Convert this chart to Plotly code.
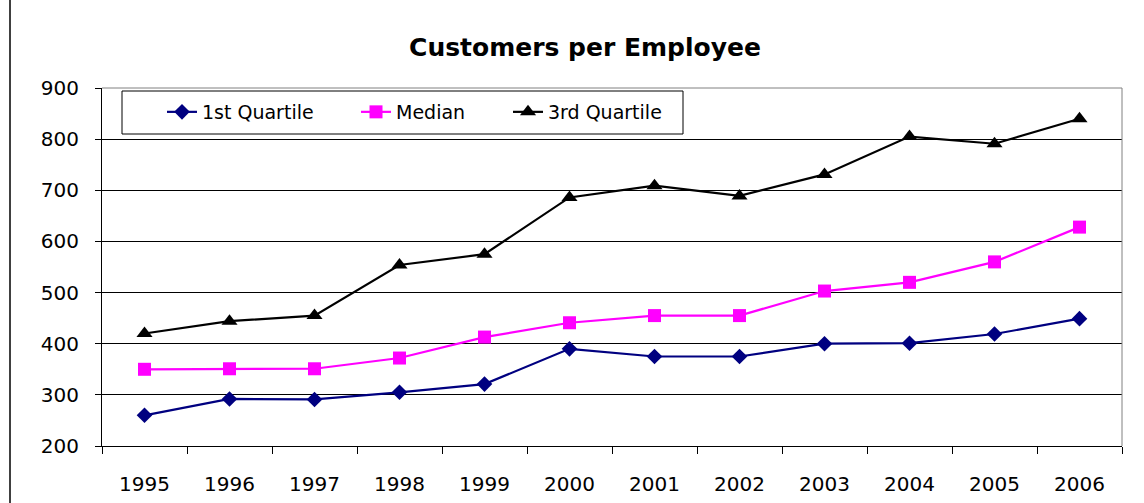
import plotly.graph_objects as go

years = ["1995", "1996", "1997", "1998", "1999", "2000", "2001", "2002", "2003", "2004", "2005", "2006"]
q1 = [260, 292, 291, 305, 321, 390, 375, 375, 400, 401, 419, 449]
median = [350, 351, 351, 372, 413, 441, 455, 455, 503, 520, 560, 628]
q3 = [420, 444, 455, 554, 575, 686, 709, 689, 731, 805, 791, 840]

W, H = 1144, 503
L, R, T, B = 102, 22, 88, 57
pw, ph = W - L - R, H - T - B

def px_x(p):
    return (p - L) / pw

def px_y(p):
    return (H - B - p) / ph

FONT = "DejaVu Sans"

fig = go.Figure()
fig.add_trace(go.Scatter(x=years, y=q1, name="1st Quartile", mode="lines+markers",
                         line=dict(color="#000080", width=2.2),
                         marker=dict(symbol="diamond", size=12, color="#000080"),
                         legend="legend", showlegend=True))
fig.add_trace(go.Scatter(x=years, y=median, name="Median", mode="lines+markers",
                         line=dict(color="#FF00FF", width=2.2),
                         marker=dict(symbol="square", size=13, color="#FF00FF"),
                         legend="legend2", showlegend=True))
fig.add_trace(go.Scatter(x=years, y=q3, name="3rd Quartile", mode="lines+markers",
                         line=dict(color="#000000", width=2.2),
                         marker=dict(symbol="triangle-up", size=14, color="#000000"),
                         legend="legend3", showlegend=True))

leg_common = dict(orientation="h", yanchor="middle", xanchor="left",
                  bgcolor="rgba(0,0,0,0)", borderwidth=0,
                  font=dict(family=FONT, size=19, color="#000000"))
ly = px_y(112)
fig.update_layout(
    showlegend=True,
    legend=dict(x=px_x(162), y=ly, **leg_common),
    legend2=dict(x=px_x(356), y=ly, **leg_common),
    legend3=dict(x=px_x(508), y=ly, **leg_common),
)

fig.update_layout(
    width=W, height=H,
    margin=dict(l=L, r=R, t=T, b=B, autoexpand=False),
    paper_bgcolor="white", plot_bgcolor="white",
    title=dict(text="<b>Customers per Employee</b>", x=585 / W, xref="container",
               xanchor="center", y=1 - 47 / H, yref="container", yanchor="middle",
               font=dict(family=FONT, size=25, color="#000000")),
    font=dict(family=FONT, color="#000000"),
    xaxis=dict(type="category", range=[-0.5, 11.5], autorange=False,
               tickson="boundaries", ticks="outside", ticklen=7,
               tickcolor="#000000", showline=True, linecolor="#000000", linewidth=1,
               showgrid=False, ticklabelstandoff=20,
               tickfont=dict(family=FONT, size=20, color="#000000")),
    yaxis=dict(range=[200, 900], autorange=False, dtick=100, ticks="outside", ticklen=6,
               tickcolor="#000000", showline=True, linecolor="#000000", linewidth=1,
               showgrid=True, gridcolor="#000000", gridwidth=1, zeroline=False,
               ticklabelstandoff=12,
               tickfont=dict(family=FONT, size=20, color="#000000")),
    shapes=[
        dict(type="line", xref="paper", yref="paper", x0=0, x1=1, y0=1, y1=1,
             line=dict(color="#808080", width=1), layer="above"),
        dict(type="line", xref="paper", yref="paper", x0=1, x1=1, y0=0, y1=1,
             line=dict(color="#808080", width=1), layer="above"),
        dict(type="rect", xref="paper", yref="paper",
             x0=px_x(122), x1=px_x(683), y0=px_y(134), y1=px_y(91),
             line=dict(color="#000000", width=1), fillcolor="rgba(0,0,0,0)", layer="above"),
        dict(type="line", xref="paper", yref="paper", x0=px_x(10), x1=px_x(10),
             y0=px_y(H), y1=px_y(0), line=dict(color="#000000", width=1.5)),
    ],
)

fig.write_html("out.html", config={"displayModeBar": False})

with open("out.html", "r", encoding="utf-8") as f:
    html = f.read()
html = html.replace("<body>", '<body style="margin:0;padding:0;overflow:hidden">', 1)
with open("out.html", "w", encoding="utf-8") as f:
    f.write(html)
